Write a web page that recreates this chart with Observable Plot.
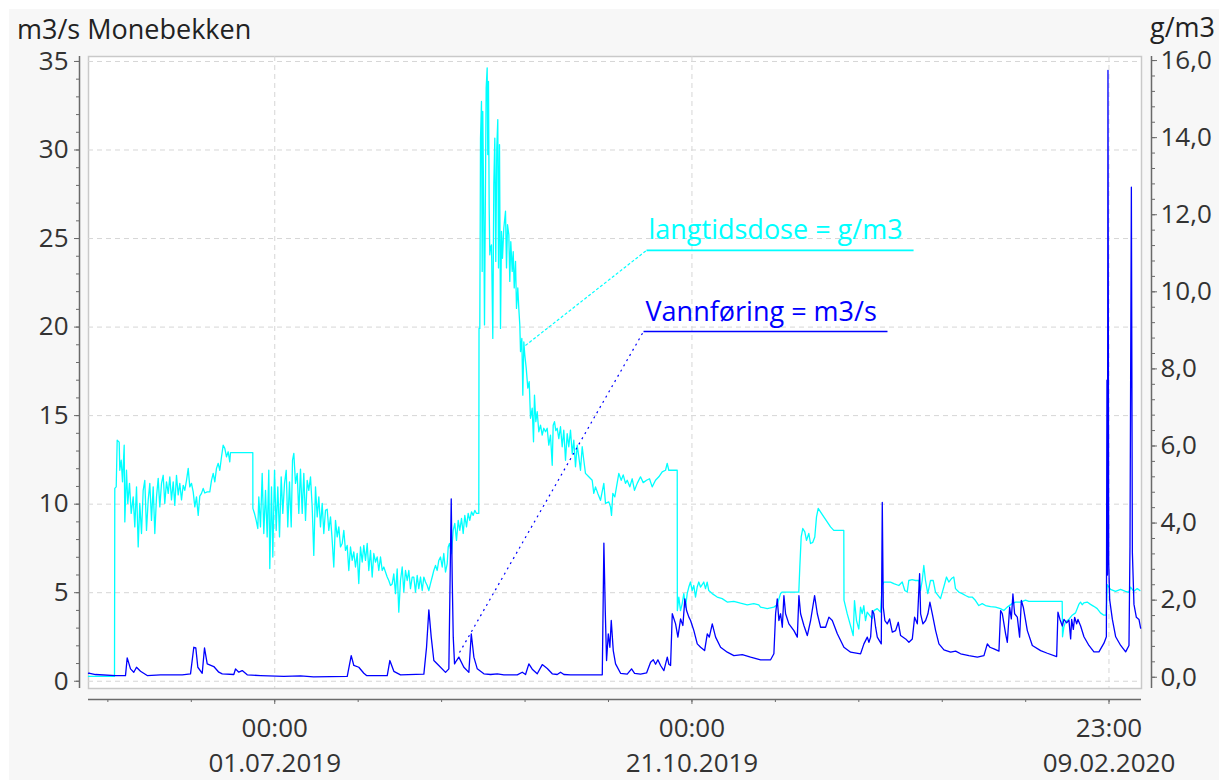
<!DOCTYPE html>
<html><head><meta charset="utf-8">
<script src="https://cdn.jsdelivr.net/npm/d3@7"></script>
<script src="https://cdn.jsdelivr.net/npm/@observablehq/plot@0.6"></script>
<style>
body{margin:0;background:#fff;}
#wrap{position:relative;width:1219px;height:780px;overflow:hidden;background:#fff;font-family:"Open Sans",sans-serif;}
#panel{position:absolute;left:9px;top:9px;right:0;bottom:0;background:#f7f7f7;}
#chart{position:absolute;left:0;top:0;}
</style></head><body>
<div id="wrap"><div id="panel"></div><div id="chart"></div></div>
<script>
// ---- data ----
const seriesStart = "2019-05-12T00:00Z";
const xDomain = ["2019-05-12T00:00Z", "2020-02-18T16:34Z"];
const yDomain = [-0.41, 35.28];
const majorTicks = ["2019-07-01T00:00Z", "2019-10-21T00:00Z", "2020-02-09T23:00Z"];
const tickTimeLabels = ["00:00", "00:00", "23:00"];
const tickDateLabels = ["01.07.2019", "21.10.2019", "09.02.2020"];
const leftTicks = [0, 5, 10, 15, 20, 25, 30, 35];
const rightTicks = [0, 2, 4, 6, 8, 10, 12, 14, 16];
const rightTickLabels = ["0,0", "2,0", "4,0", "6,0", "8,0", "10,0", "12,0", "14,0", "16,0"];
const leftTitle = "m3/s Monebekken";
const rightTitle = "g/m3";
// right axis (g/m3) expressed on left axis (m3/s): left = b + k * right
const rightToLeft = {k: 2.1765, b: 0.226};

// Vannføring, m3/s : [days since seriesStart, value]
const vannforing = [
[0,0.45],[0.35,0.45],[1.88,0.38],[7.25,0.32],[9.93,0.32],[10.39,1.32],[11.28,0.70],[12.16,0.51],[12.89,0.79],[13.96,0.56],[15.76,0.32],[19.33,0.36],[25.16,0.36],[27.39,0.42],[28.27,1.92],[28.81,1.88],[29.35,0.79],[30.53,0.45],[31.14,1.88],[31.87,0.98],[33.64,0.83],[34.98,0.51],[35.90,0.42],[39.01,0.38],[39.47,0.70],[40.35,0.51],[41.27,0.60],[42.61,0.36],[46.18,0.32],[52.44,0.27],[56.92,0.30],[60.41,0.25],[69.46,0.28],[70.53,1.45],[71.23,0.89],[72.57,0.79],[73.92,0.45],[74.64,0.32],[80.20,0.32],[80.90,1.17],[81.97,0.56],[83.77,0.36],[90.03,0.40],[90.75,1.92],[91.37,4.03],[92.01,2.49],[92.71,1.17],[94.05,0.89],[95.85,0.50],[96.74,0.70],[97.38,10.3],[97.65,5.69],[97.92,2.49],[98.27,0.98],[98.81,1.17],[99.42,1.36],[100.77,0.79],[102.11,0.50],[102.76,2.68],[103.46,1.36],[104.37,0.70],[106.14,0.42],[107.94,0.38],[109.74,0.42],[111.51,0.36],[115.11,0.36],[116.45,0.51],[117.33,0.38],[118.22,0.98],[119.13,0.68],[120.47,0.42],[121.82,0.94],[123.16,0.72],[124.50,0.42],[125.84,0.38],[126.73,0.51],[127.62,0.38],[129.42,0.36],[137.93,0.36],[138.36,7.8],[138.73,3.99],[139.08,1.17],[139.54,2.68],[139.97,1.92],[140.34,3.43],[140.88,1.73],[141.50,0.98],[142.84,0.45],[144.63,0.40],[145.79,0.70],[146.60,0.45],[148.21,0.40],[149.82,0.47],[150.90,1.07],[151.62,1.21],[152.24,0.96],[152.86,1.21],[153.58,0.89],[154.47,0.60],[155.38,1.36],[155.81,0.96],[156.27,0.89],[156.72,3.81],[157.61,3.24],[158.23,2.49],[158.95,3.52],[159.57,3.15],[160.10,4.65],[160.56,3.99],[161.18,3.62],[161.63,3.43],[162.52,2.86],[163.43,2.11],[164.32,1.92],[165.40,1.73],[166.12,2.68],[166.66,2.49],[167.46,3.24],[168.35,2.49],[169.69,1.92],[171.49,1.64],[173.26,1.45],[175.52,1.50],[177.75,1.36],[180.43,1.21],[183.12,1.21],[184.00,1.55],[184.46,3.81],[184.91,4.65],[185.34,3.43],[185.80,3.81],[186.26,3.05],[186.69,4.84],[187.14,3.81],[188.03,3.24],[189.38,2.86],[190.29,2.49],[190.72,4.84],[191.17,3.81],[192.06,3.15],[192.97,2.58],[193.86,3.43],[194.93,4.84],[195.66,3.81],[196.54,3.05],[197.88,3.05],[198.77,3.62],[199.68,3.43],[201.03,2.68],[202.80,1.92],[204.60,1.64],[207.28,1.55],[208.17,2.11],[209.08,2.49],[209.51,2.2],[209.97,2.49],[210.42,3.99],[210.85,3.81],[211.31,3.05],[211.76,2.49],[212.83,2.11],[213.10,10.1],[213.37,4.18],[213.80,3.43],[214.44,3.24],[215.06,3.52],[215.79,2.77],[216.67,2.86],[217.40,3.33],[218.02,2.58],[219.36,2.39],[220.25,2.2],[221.16,2.39],[221.78,3.62],[222.50,3.24],[223.12,6.07],[223.39,3.81],[224.01,3.24],[224.73,3.43],[225.35,3.81],[225.89,4.46],[226.53,3.81],[227.42,2.86],[228.31,2.11],[229.65,1.77],[231.45,1.64],[232.79,1.70],[234.13,1.55],[236.36,1.45],[238.62,1.36],[240.39,1.45],[241.30,2.11],[242.00,1.92],[243.08,1.83],[244.42,1.70],[244.87,3.99],[245.33,3.81],[246.21,2.68],[246.67,2.2],[247.29,4.18],[247.74,3.52],[248.17,4.93],[248.63,3.81],[249.35,3.62],[249.97,2.49],[250.43,4.56],[250.96,4.18],[252.04,2.86],[253.38,2.02],[255.61,1.73],[257.41,1.58],[259.91,1.39],[260.26,3.9],[260.80,3.49],[261.44,3.12],[261.87,3.49],[262.60,3.3],[263.21,3.45],[263.67,2.39],[263.94,3.49],[264.39,2.93],[264.74,3.61],[265.28,3.24],[265.63,3.49],[266.35,3.12],[267.24,2.51],[268.58,2.02],[269.92,1.66],[271.27,1.66],[272.61,2.15],[273.26,2.51],[273.42,17.0],[273.55,6.0],[273.69,34.5],[273.88,6.78],[274.15,4.59],[274.87,3.49],[275.76,2.51],[277.10,2.02],[278.44,1.66],[279.33,2.02],[279.60,7.63],[279.97,27.9],[280.24,7.27],[280.67,4.34],[281.31,3.61],[282.01,3.49],[282.46,3.0]
];

// langtidsdose, g/m3 : [days since seriesStart, value]
const langtidsdose = [
[0,0.02],[6.98,0.02],[7.06,4.9],[7.44,4.94],[7.70,6.15],[8.24,6.10],[8.40,5.37],[8.78,5.63],[9.13,5.07],[9.58,6.02],[9.75,4.03],[10.20,5.37],[10.55,4.51],[11.01,5.03],[11.46,4.25],[12.00,4.68],[12.43,3.90],[12.89,4.94],[13.34,3.38],[13.77,4.51],[14.23,3.73],[14.68,4.85],[15.11,5.11],[15.57,3.81],[16.03,4.60],[16.46,5.03],[16.91,4.07],[17.37,4.94],[17.80,3.73],[18.26,4.68],[18.71,5.16],[19.14,4.42],[19.60,5.03],[20.05,5.24],[20.48,4.51],[20.94,5.07],[21.40,4.77],[21.83,5.20],[22.28,4.60],[22.74,5.07],[23.17,4.46],[23.62,5.24],[24.08,4.73],[24.51,5.03],[24.97,4.60],[25.42,4.98],[25.85,4.85],[26.31,5.11],[26.77,5.42],[27.19,4.94],[27.65,5.03],[28.11,4.81],[28.54,4.42],[28.99,4.68],[29.45,4.20],[29.88,4.70],[30.34,4.77],[30.79,4.90],[31.22,4.78],[31.87,4.81],[32.56,4.81],[33.02,5.11],[33.48,5.29],[33.91,5.07],[34.36,5.42],[34.82,5.55],[35.25,5.37],[35.71,5.72],[36.16,6.02],[36.59,5.94],[37.05,5.72],[37.50,5.85],[37.93,5.59],[38.12,5.83],[44.11,5.83],[44.13,4.38],[44.56,4.25],[45.02,4.07],[45.45,3.86],[45.72,4.68],[46.17,3.90],[46.63,5.29],[47.06,3.73],[47.52,4.85],[47.97,3.64],[48.40,5.37],[48.67,2.82],[49.13,4.94],[49.48,3.12],[49.94,5.37],[50.39,3.81],[50.82,4.94],[51.28,3.64],[51.73,5.20],[52.16,4.25],[52.62,5.03],[53.08,5.37],[53.50,3.90],[53.96,5.07],[54.42,3.90],[54.77,5.63],[55.12,5.81],[55.57,5.03],[56.03,5.29],[56.46,4.25],[56.91,5.40],[57.37,4.25],[57.80,5.29],[58.26,4.07],[58.71,5.11],[59.14,4.85],[59.60,5.20],[60.05,4.42],[60.48,3.16],[60.94,4.94],[61.40,4.16],[61.83,4.68],[62.28,3.90],[62.74,4.51],[63.17,3.73],[63.62,4.33],[64.08,4.36],[64.51,3.81],[64.97,4.16],[65.42,3.55],[65.85,2.86],[66.31,4.07],[66.77,3.64],[67.20,3.90],[67.65,3.38],[68.11,3.47],[68.54,3.81],[68.99,3.29],[69.45,3.42],[69.88,2.77],[70.34,3.38],[70.79,3.03],[71.22,3.25],[71.68,2.86],[72.13,3.21],[72.56,2.43],[73.02,3.38],[73.48,2.99],[73.91,3.42],[74.36,3.03],[74.82,3.47],[75.25,2.77],[75.71,3.29],[76.16,2.60],[76.59,3.21],[77.05,2.99],[77.50,3.12],[77.93,2.77],[78.39,3.12],[78.85,2.77],[79.28,2.86],[79.73,2.73],[80.19,2.60],[80.62,2.51],[81.08,2.38],[81.53,2.42],[81.96,2.68],[82.42,2.17],[82.87,2.81],[83.30,1.69],[83.76,2.51],[84.22,2.86],[84.65,2.21],[85.10,2.77],[85.56,2.51],[85.99,2.77],[86.44,2.30],[86.90,2.60],[87.33,2.60],[87.79,2.21],[88.24,2.64],[88.67,2.30],[89.13,2.60],[89.59,2.25],[90.02,2.60],[90.47,2.47],[90.93,2.38],[91.36,2.25],[91.81,2.43],[92.27,2.60],[92.70,2.77],[93.16,2.90],[93.61,2.77],[94.04,3.03],[94.50,3.12],[94.96,2.86],[95.38,3.21],[95.84,2.73],[96.30,2.95],[96.57,3.38],[96.91,3.47],[97.45,3.21],[97.91,3.81],[98.34,3.99],[98.79,3.55],[99.25,4.07],[99.68,3.81],[100.14,4.12],[100.59,3.73],[101.02,4.20],[101.48,3.90],[101.93,4.25],[102.36,4.07],[102.82,4.29],[103.28,4.20],[103.71,4.33],[104.16,4.25],[104.78,4.25],[104.84,9.05],[105.05,9.05],[105.24,13.99],[105.50,14.94],[105.69,10.53],[105.85,14.68],[106.12,11.83],[106.31,9.14],[106.49,11.65],[106.76,15.29],[107.03,15.81],[107.19,13.56],[107.38,15.46],[107.57,12.17],[107.73,10.96],[107.92,11.13],[108.19,11.22],[108.54,8.79],[108.81,12.78],[109.08,13.99],[109.34,10.79],[109.61,13.73],[109.88,14.47],[110.07,10.62],[110.34,13.82],[110.61,9.05],[110.88,11.57],[111.14,10.87],[111.49,11.65],[111.95,12.09],[112.22,10.62],[112.49,11.74],[112.84,11.48],[113.10,10.27],[113.37,11.30],[113.75,10.53],[114.02,11.04],[114.29,10.10],[114.64,10.79],[114.90,9.57],[115.25,10.10],[115.52,9.57],[115.79,9.14],[115.98,8.45],[116.33,8.79],[116.60,7.32],[116.87,8.70],[117.13,8.36],[117.51,8.02],[117.94,7.50],[118.31,7.67],[118.66,6.72],[119.12,6.98],[119.47,6.11],[119.73,7.32],[120.09,6.63],[120.46,6.89],[120.89,6.37],[121.35,6.54],[121.80,6.28],[122.23,6.46],[122.69,6.37],[123.14,6.46],[123.57,6.02],[124.03,6.28],[124.49,5.50],[124.75,6.54],[125.10,6.63],[125.45,6.40],[125.83,6.46],[126.26,6.19],[126.71,6.50],[127.17,5.98],[127.60,6.41],[128.06,5.63],[128.51,6.32],[128.94,5.98],[129.40,6.41],[129.86,5.80],[130.29,6.15],[130.74,5.46],[131.20,6.02],[131.63,5.72],[132.08,5.37],[132.54,5.98],[132.97,5.63],[133.42,5.29],[134.31,5.20],[135.22,5.11],[135.65,4.77],[136.11,4.94],[136.73,4.77],[137.45,4.59],[138.34,5.03],[138.80,4.51],[139.68,4.55],[140.14,4.42],[140.41,4.20],[140.76,4.77],[141.30,4.68],[141.75,4.94],[142.37,5.29],[143.01,5.11],[143.55,5.25],[144.16,5.03],[144.62,5.11],[145.32,4.94],[145.96,5.15],[146.58,4.85],[147.31,5.03],[148.19,5.20],[148.92,5.05],[149.80,5.11],[150.61,5.15],[151.33,4.94],[152.22,5.11],[153.11,5.20],[154.02,5.33],[154.91,5.37],[155.36,5.55],[155.79,5.37],[158.05,5.37],[158.08,1.73],[158.48,2.08],[158.93,1.73],[159.39,1.91],[159.82,2.17],[160.28,1.82],[160.73,2.17],[161.16,2.34],[161.61,2.47],[162.07,2.25],[162.50,2.38],[162.96,2.08],[163.41,2.34],[163.84,2.47],[164.30,2.34],[164.75,2.40],[165.18,2.47],[165.64,2.30],[166.09,2.47],[166.52,2.25],[167.44,2.17],[168.78,2.08],[170.12,2.04],[171.47,1.95],[173.24,1.97],[175.04,1.92],[176.84,1.88],[178.61,1.91],[179.95,1.88],[180.41,1.82],[182.21,1.78],[183.98,1.82],[184.89,1.88],[185.78,2.17],[186.23,2.21],[190.69,2.21],[190.96,2.86],[191.33,3.64],[191.76,3.86],[192.30,3.77],[192.76,3.55],[193.37,3.73],[193.83,3.47],[194.45,3.50],[194.98,3.64],[195.44,4.16],[195.90,4.38],[196.51,4.29],[197.40,4.16],[198.31,4.03],[199.20,3.90],[200.08,3.81],[202.77,3.81],[202.82,2.00],[203.68,1.65],[204.57,1.34],[205.29,1.08],[205.64,1.99],[206.18,1.47],[206.80,1.25],[207.26,1.82],[207.71,1.65],[208.14,1.86],[208.60,1.47],[209.05,1.69],[209.75,1.60],[210.40,1.52],[210.83,1.73],[211.74,1.78],[212.63,1.69],[213.08,2.38],[213.51,2.47],[215.31,2.47],[216.20,2.43],[217.54,2.38],[218.45,2.47],[219.15,2.25],[219.79,2.21],[220.22,2.51],[221.13,2.53],[222.02,2.51],[222.90,2.51],[223.36,2.25],[223.82,2.51],[224.25,2.90],[224.70,2.51],[225.32,2.17],[226.04,2.51],[226.77,2.51],[227.39,2.21],[228.11,2.12],[228.73,2.04],[229.61,2.34],[230.34,2.60],[230.96,2.47],[231.68,2.56],[232.30,2.60],[232.76,2.30],[233.64,2.21],[234.56,2.17],[235.44,2.12],[236.33,2.08],[237.24,2.08],[238.13,1.99],[239.01,1.86],[239.93,1.91],[240.81,1.86],[242.15,1.83],[243.50,1.82],[244.84,1.78],[245.73,1.73],[246.64,1.82],[247.98,1.91],[248.87,1.95],[250.21,1.95],[251.55,2.00],[252.44,1.97],[261.40,1.97],[261.49,1.05],[261.84,1.30],[262.29,1.44],[263.18,1.50],[264.09,1.61],[264.98,1.67],[265.86,1.89],[266.32,1.95],[266.77,1.88],[267.20,1.93],[268.11,1.95],[269.00,1.89],[269.88,1.84],[270.80,1.78],[271.68,1.67],[272.57,1.61],[273.22,1.61],[273.49,2.40],[274.37,2.28],[275.72,2.23],[277.06,2.28],[278.40,2.23],[279.29,2.20],[279.75,2.34],[280.63,2.23],[281.55,2.30],[282.25,2.25]
];

// callout labels: label line from/to (days), level (m3/s), pointer target (days, m3/s)
const annotations = [
  {label: "langtidsdose = g/m3", color: "#00ffff", from: 149.8, to: 221.5, level: 24.33, targetDay: 117.3, targetValue: 18.96, dash: "3,2"},
  {label: "Vannføring = m3/s", color: "#0000ff", from: 149.0, to: 214.5, level: 19.75, targetDay: 99.6, targetValue: 1.62, dash: "2,4"}
];

// ---- build ----
const DAY = 864e5;
const t0 = new Date(seriesStart).getTime();
const toDate = d => new Date(t0 + d * DAY);
const blueData = vannforing.map(([d, v]) => ({date: toDate(d), value: v}));
const cyanData = langtidsdose.map(([d, v]) => ({date: toDate(d), value: rightToLeft.b + rightToLeft.k * v}));

const majorDates = majorTicks.map(s => new Date(s));
const timeLabel = new Map(majorDates.map((d, i) => [+d, tickTimeLabels[i]]));
const dateLabel = new Map(majorDates.map((d, i) => [+d, tickDateLabels[i]]));
const xMin = new Date(xDomain[0]), xMax = new Date(xDomain[1]);
const minorStep = (majorDates[1] - majorDates[0]) / 5;
const minorDates = d3.range(-3, 14).map(i => new Date(+majorDates[0] + i * minorStep)).filter(d => d >= xMin && d <= xMax);
const leftMinor = d3.range(0, 36);
const rightPos = rightTicks.map(r => rightToLeft.b + rightToLeft.k * r);
const rightLabel = new Map(rightPos.map((p, i) => [p, rightTickLabels[i]]));
const rightMinor = d3.range(0, 41).map(i => rightToLeft.b + rightToLeft.k * i * 0.4);

const axisColor = "#6a6a6a";
const gridStyle = {stroke: "#d6d6d6", strokeOpacity: 1, strokeDasharray: "5,4"};

const annMarks = annotations.flatMap(a => [
  Plot.link([a], {x1: d => toDate(d.targetDay), y1: "targetValue", x2: d => toDate(d.from), y2: "level", stroke: a.color, strokeWidth: 1.2, strokeDasharray: a.dash}),
  Plot.link([a], {x1: d => toDate(d.from), y1: "level", x2: d => toDate(d.to), y2: "level", stroke: a.color, strokeWidth: 1.6}),
  Plot.text([a], {x: d => toDate(d.from), y: "level", text: "label", textAnchor: "start", lineAnchor: "bottom", dx: 2, dy: -11, fill: a.color, fontSize: 27})
]);

const chart = Plot.plot({
  width: 1219, height: 780,
  marginLeft: 79, marginRight: 68, marginTop: 56, marginBottom: 81,
  insetLeft: 9, insetRight: 10, insetBottom: 11, insetTop: 0,
  x: {type: "utc", domain: [xMin, xMax], label: null},
  y: {domain: yDomain, label: null},
  style: {background: "transparent", fontFamily: "'Open Sans', sans-serif", fontSize: "26px", color: "#333", overflow: "visible"},
  marks: [
    Plot.frame({fill: "white", stroke: "#c9c9c9", strokeWidth: 1.5, insetLeft: 9, insetRight: 10, insetBottom: 11}),
    Plot.gridY(leftTicks, {...gridStyle, insetLeft: 9, insetRight: 10}),
    Plot.gridX(majorDates, {...gridStyle, insetBottom: 11}),
    Plot.line(cyanData, {x: "date", y: "value", stroke: "#00ffff", strokeWidth: 1.3}),
    Plot.line(blueData, {x: "date", y: "value", stroke: "#0000ff", strokeWidth: 1.3}),
    ...annMarks,
    // axis lines
    Plot.ruleX([xMin], {dx: -9, insetBottom: 11, stroke: axisColor, strokeWidth: 1.5}),
    Plot.ruleX([xMax], {dx: 10, insetBottom: 11, stroke: axisColor, strokeWidth: 1.5}),
    Plot.ruleY([yDomain[0]], {dy: 11, insetLeft: 9, insetRight: 10, stroke: axisColor, strokeWidth: 1.5}),
    // left axis
    Plot.axisY(leftMinor, {anchor: "left", tickSize: 3, tickFormat: () => "", label: null, stroke: axisColor}),
    Plot.axisY(leftTicks, {anchor: "left", tickSize: 5, tickPadding: 6, label: null, stroke: axisColor, fill: "#333"}),
    // right axis
    Plot.axisY(rightMinor, {anchor: "right", tickSize: 3, tickFormat: () => "", label: null, stroke: axisColor}),
    Plot.axisY(rightPos, {anchor: "right", tickSize: 5, tickPadding: 4, tickFormat: d => rightLabel.get(d), label: null, stroke: axisColor, fill: "#333"}),
    // bottom axis
    Plot.axisX(minorDates, {anchor: "bottom", tickSize: 3, tickFormat: () => "", label: null, stroke: axisColor}),
    Plot.axisX(majorDates, {anchor: "bottom", tickSize: 5, tickPadding: 14, tickFormat: d => timeLabel.get(+d), label: null, stroke: axisColor, fill: "#333"}),
    Plot.axisX(majorDates, {anchor: "bottom", tickSize: 0, tickPadding: 54, tickFormat: d => dateLabel.get(+d), label: null, fill: "#333"})
  ]
});

const svg = d3.select(chart);
svg.append("text").attr("x", 17).attr("y", 39).attr("text-anchor", "start").attr("font-size", 27).attr("fill", "#222").text(leftTitle);
svg.append("text").attr("x", 1150).attr("y", 37).attr("text-anchor", "start").attr("font-size", 27).attr("fill", "#222").text(rightTitle);
document.getElementById("chart").appendChild(chart);
</script>
</body></html>
